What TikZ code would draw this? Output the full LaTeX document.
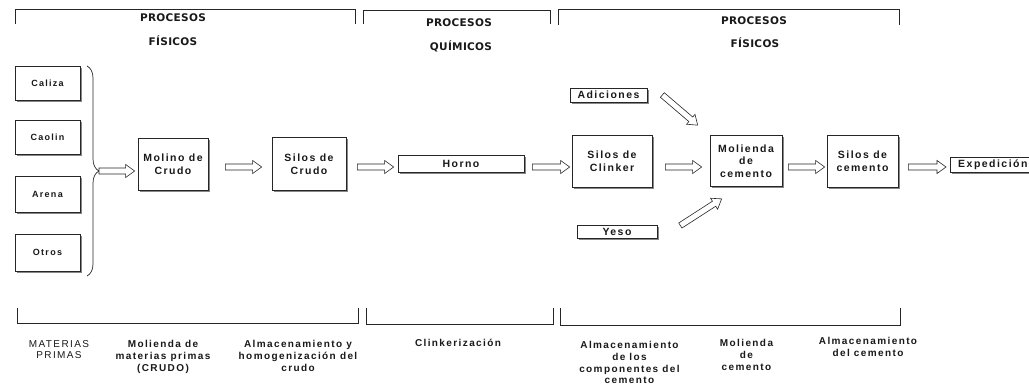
\documentclass[tikz,border=0pt]{standalone}
\usepackage{fontspec}
\setmainfont{Liberation Sans}
\newfontfamily\boxfont[LetterSpace=14]{Liberation Sans}
\newfontfamily\headfont[LetterSpace=3]{DejaVu Sans}
\usetikzlibrary{calc,shadows,decorations.pathreplacing}

\tikzset{
  ink/.style={draw=black!85, line width=0.8pt},
  procbox/.style={draw=black!85, line width=0.7pt, fill=white,
    drop shadow={shadow xshift=2pt, shadow yshift=-2pt, fill=black!55, opacity=0.85},
    inner sep=1pt, align=center, text=black!90,
    font=\boxfont\bfseries\fontsize{10.5}{12.5}\selectfont},
  smallbox/.style={procbox, font=\boxfont\bfseries\fontsize{9}{11}\selectfont},
  hollowarrow/.style={draw=black!85, line width=0.6pt, fill=white, line join=miter},
  heading/.style={font=\headfont\bfseries\fontsize{10.5}{12}\selectfont, text=black!90, inner sep=0pt},
  stage/.style={align=center, anchor=north, inner sep=0pt, text=black!90,
    font=\boxfont\bfseries\fontsize{10}{11.8}\selectfont},
  stagelight/.style={stage, font=\boxfont\fontsize{10}{11.8}\selectfont}
}

% hollow block arrow from coordinate #1 to coordinate #2
\newcommand{\blockarrow}[2]{%
  \coordinate (ba-h) at ($(#2)!9pt!(#1)$);
  \draw[hollowarrow]
    ($(#1)!3pt!90:(#2)$) -- ($(ba-h)!3pt!90:(#2)$) -- ($(ba-h)!6.5pt!90:(#2)$)
    -- (#2)
    -- ($(ba-h)!6.5pt!-90:(#2)$) -- ($(ba-h)!3pt!-90:(#2)$) -- ($(#1)!3pt!-90:(#2)$) -- cycle;
}

\begin{document}
\begin{tikzpicture}[x=1pt, y=-1pt]
\useasboundingbox (0,0) rectangle (1029,385);
\fill[white] (0,0) rectangle (1029,385);

% group brackets, top
\draw[ink] (15,24) -- (15,9) -- (355,9) -- (355,24);
\draw[ink] (363,24) -- (363,10) -- (550,10) -- (550,24);
\draw[ink] (558,25) -- (558,9.5) -- (899,9.5) -- (899,25);

\node[heading] (h1a) at (173,18) {PROCESOS};
\node[heading] (h1b) at (173,41) {FÍSICOS};
\node[heading] (h2a) at (459,23) {PROCESOS};
\node[heading] (h2b) at (461,46) {QUÍMICOS};
\node[heading] (h3a) at (754,21) {PROCESOS};
\node[heading] (h3b) at (755,43) {FÍSICOS};

% raw materials
\node[smallbox, minimum width=65, minimum height=34] (caliza) at (47.5,83.5) {Caliza};
\node[smallbox, minimum width=65, minimum height=34] (caolin) at (47.5,137) {Caolin};
\node[smallbox, minimum width=65, minimum height=36] (arena) at (47.5,194) {Arena};
\node[smallbox, minimum width=65, minimum height=37] (otros) at (47.5,252.5) {Otros};

\draw[ink, line width=0.7pt, decorate, decoration={brace, amplitude=12pt, aspect=0.5}] (87,66) -- (87,276);
\coordinate (bracetip) at (99,171);

% main line
\node[procbox, minimum width=70, minimum height=52] (molino) at (173,164) {Molino de\\Crudo};
\node[procbox, minimum width=74, minimum height=53] (silocrudo) at (309,164) {Silos de\\Crudo};
\node[procbox, minimum width=126, minimum height=17] (horno) at (461,164) {Horno};
\node[procbox, minimum width=80, minimum height=52] (clinker) at (612,161) {Silos de\\Clinker};
\node[procbox, minimum width=72, minimum height=51] (molienda) at (746,161) {Molienda\\de\\cemento};
\node[procbox, minimum width=71, minimum height=52] (silocem) at (862.5,161) {Silos de\\cemento};
\node[procbox, minimum width=85, minimum height=15, anchor=west] (exped) at (950,165) {Expedición};
\node[procbox, minimum width=77, minimum height=14] (adiciones) at (608.5,95) {Adiciones};
\node[procbox, minimum width=80, minimum height=13] (yeso) at (617,231.5) {Yeso};

% arrow end points
\coordinate (a1e) at ($(molino.west)+(-3,7)$);
\coordinate (a2s) at ($(molino.east)+(17,3)$);
\coordinate (a2e) at ($(silocrudo.west)+(-10,3)$);
\coordinate (a3s) at ($(silocrudo.east)+(11,3)$);
\coordinate (a3e) at ($(horno.west)+(-4,3)$);
\coordinate (a4s) at ($(horno.east)+(8,3)$);
\coordinate (a4e) at ($(clinker.west)+(-2,6)$);
\coordinate (a5s) at ($(clinker.east)+(13,6)$);
\coordinate (a5e) at ($(molienda.west)+(-8,6)$);
\coordinate (a6s) at ($(molienda.east)+(6,6)$);
\coordinate (a6e) at ($(silocem.west)+(-2,6)$);
\coordinate (a7s) at ($(silocem.east)+(10,6)$);
\coordinate (a7e) at ($(exped.west)+(-4,2)$);
\coordinate (a8s) at ($(adiciones.east)+(15,0)$);
\coordinate (a8e) at ($(molienda.north west)+(-12,-10)$);
\coordinate (a9s) at ($(yeso.east)+(23,-6)$);
\coordinate (a9e) at ($(molienda.south west)+(12,12)$);

\blockarrow{bracetip}{a1e}
\blockarrow{a2s}{a2e}
\blockarrow{a3s}{a3e}
\blockarrow{a4s}{a4e}
\blockarrow{a5s}{a5e}
\blockarrow{a6s}{a6e}
\blockarrow{a7s}{a7e}
\blockarrow{a8s}{a8e}
\blockarrow{a9s}{a9e}

% group brackets, bottom
\draw[ink] (17,308) -- (17,323) -- (358,323) -- (358,308);
\draw[ink] (366,308) -- (366,324) -- (553,324) -- (553,308);
\draw[ink] (560,308) -- (560,325) -- (900,325) -- (900,308);

% stage captions
\node[stagelight] (s1) at (59,340) {MATERIAS\\PRIMAS};
\node[stage] (s2) at (163,340) {Molienda de\\materias primas\\(CRUDO)};
\node[stage] (s3) at (298,340) {Almacenamiento y\\homogenización del\\crudo};
\node[stage] (s4) at (458,339) {Clinkerización};
\node[stage] (s5) at (629.5,341) {Almacenamiento\\de los\\componentes del\\cemento};
\node[stage] (s6) at (746.5,339) {Molienda\\de\\cemento};
\node[stage] (s7) at (868,337) {Almacenamiento\\del cemento};
\end{tikzpicture}
\end{document}
